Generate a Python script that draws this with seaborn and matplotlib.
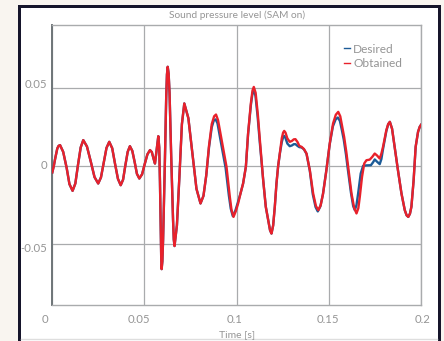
import numpy as np
import pandas as pd
import matplotlib
matplotlib.use("Agg")
import matplotlib.pyplot as plt
import matplotlib.transforms as mtransforms
from matplotlib.patches import Rectangle
from matplotlib.lines import Line2D
import seaborn as sns

# ---------------- data ----------------
title = "Sound pressure level (SAM on)"
xlabel = "Time [s]"
series_names = ["Desired", "Obtained"]
x_ticks = [0, 0.05, 0.1, 0.15, 0.2]
x_ticklabels = ["0", "0.05", "0.1", "0.15", "0.2"]
y_ticks = [-0.05, 0, 0.05]
y_ticklabels = ["-0.05", "0", "0.05"]

# part shared by both series
t_common = [0.0000, 0.0008, 0.0015, 0.0027, 0.0034, 0.0042, 0.0059, 0.0078, 0.0093, 0.0110,
            0.0125, 0.0139, 0.0154, 0.0168, 0.0188, 0.0209, 0.0229, 0.0249, 0.0264, 0.0279,
            0.0294, 0.0309, 0.0325, 0.0340, 0.0356, 0.0371, 0.0384, 0.0396, 0.0409, 0.0421,
            0.0434, 0.0447, 0.0459, 0.0472, 0.0487, 0.0501, 0.0516, 0.0530, 0.0540, 0.0550,
            0.0557, 0.0566, 0.0575, 0.0580, 0.0584, 0.0588, 0.0591, 0.0593, 0.0597, 0.0601,
            0.0610, 0.0618, 0.0622, 0.0626, 0.0631, 0.0636, 0.0645, 0.0655, 0.0659, 0.0663,
            0.0676, 0.0690, 0.0703, 0.0716, 0.0738, 0.0760, 0.0782, 0.0804, 0.0820, 0.0835]
v_common = [-0.0040, 0.0000, 0.0045, 0.0113, 0.0130, 0.0135, 0.0092, -0.0012, -0.0115, -0.0158,
            -0.0111, 0.0005, 0.0120, 0.0167, 0.0126, 0.0028, -0.0070, -0.0111, -0.0072, 0.0023,
            0.0117, 0.0156, 0.0115, 0.0017, -0.0081, -0.0122, -0.0086, 0.0003, 0.0092, 0.0128,
            0.0098, 0.0025, -0.0049, -0.0079, -0.0052, 0.0012, 0.0076, 0.0103, 0.0090, 0.0045,
            0.0017, 0.0105, 0.0192, 0.0120, -0.0100, -0.0400, -0.0600, -0.0660, -0.0610, -0.0471,
            -0.0011, 0.0448, 0.0588, 0.0637, 0.0593, 0.0469, 0.0062, -0.0345, -0.0470, -0.0512,
            -0.0379, -0.0055, 0.0269, 0.0402, 0.0308, 0.0082, -0.0145, -0.0239, -0.0190, -0.0060]

# "Obtained" after t = 0.0835
t_obt_late = [0.0850, 0.0865, 0.0878, 0.0888, 0.0899, 0.0909, 0.0927, 0.0945, 0.0963, 0.0972,
              0.0983, 0.0995, 0.1008, 0.1022, 0.1035, 0.1050, 0.1062, 0.1077, 0.1086, 0.1093,
              0.1103, 0.1115, 0.1126, 0.1144, 0.1158, 0.1171, 0.1181, 0.1189, 0.1198, 0.1207,
              0.1216, 0.1225, 0.1234, 0.1245, 0.1252, 0.1258, 0.1265, 0.1275, 0.1288, 0.1300,
              0.1310, 0.1319, 0.1330, 0.1340, 0.1352, 0.1365, 0.1379, 0.1397, 0.1415, 0.1430,
              0.1443, 0.1456, 0.1469, 0.1487, 0.1505, 0.1523, 0.1538, 0.1551, 0.1562, 0.1573,
              0.1583, 0.1595, 0.1605, 0.1623, 0.1637, 0.1650, 0.1660, 0.1668, 0.1680, 0.1692,
              0.1704, 0.1722, 0.1736, 0.1749, 0.1762, 0.1776, 0.1785, 0.1794, 0.1812, 0.1822,
              0.1831, 0.1843, 0.1857, 0.1875, 0.1894, 0.1912, 0.1922, 0.1931, 0.1940, 0.1948,
              0.1960, 0.1971, 0.1984, 0.1993, 0.2000]
v_obt_late = [0.0130, 0.0270, 0.0320, 0.0331, 0.0295, 0.0231, 0.0113, -0.0004, -0.0197, -0.0280,
              -0.0325, -0.0290, -0.0239, -0.0170, -0.0111, -0.0004, 0.0210, 0.0402, 0.0485, 0.0508,
              0.0470, 0.0330, 0.0167, -0.0090, -0.0260, -0.0346, -0.0410, -0.0432, -0.0380, -0.0260,
              -0.0111, 0.0000, 0.0081, 0.0180, 0.0215, 0.0226, 0.0215, 0.0178, 0.0156, 0.0162,
              0.0172, 0.0173, 0.0155, 0.0130, 0.0124, 0.0110, 0.0081, -0.0026, -0.0175, -0.0255,
              -0.0282, -0.0250, -0.0175, -0.0026, 0.0145, 0.0274, 0.0330, 0.0348, 0.0320, 0.0250,
              0.0188, 0.0090, -0.0004, -0.0175, -0.0265, -0.0303, -0.0270, -0.0197, -0.0069, 0.0017,
              0.0038, 0.0042, 0.0060, 0.0081, 0.0068, 0.0049, 0.0080, 0.0124, 0.0231, 0.0270,
              0.0284, 0.0240, 0.0124, -0.0026, -0.0175, -0.0282, -0.0315, -0.0325, -0.0305, -0.0260,
              -0.0090, 0.0124, 0.0220, 0.0252, 0.0265]

# "Desired" after t = 0.0835
t_des_late = [0.0850, 0.0865, 0.0876, 0.0886, 0.0896, 0.0905, 0.0922, 0.0940, 0.0958, 0.0968,
              0.0979, 0.0993, 0.1006, 0.1022, 0.1035, 0.1050, 0.1062, 0.1077, 0.1086, 0.1092,
              0.1102, 0.1114, 0.1125, 0.1144, 0.1158, 0.1171, 0.1181, 0.1189, 0.1198, 0.1207,
              0.1216, 0.1225, 0.1234, 0.1245, 0.1252, 0.1258, 0.1265, 0.1275, 0.1288, 0.1300,
              0.1310, 0.1319, 0.1330, 0.1340, 0.1352, 0.1365, 0.1379, 0.1397, 0.1413, 0.1428,
              0.1440, 0.1454, 0.1468, 0.1486, 0.1504, 0.1522, 0.1537, 0.1549, 0.1560, 0.1571,
              0.1581, 0.1593, 0.1602, 0.1620, 0.1632, 0.1641, 0.1650, 0.1659, 0.1673, 0.1686,
              0.1704, 0.1728, 0.1740, 0.1749, 0.1762, 0.1776, 0.1785, 0.1794, 0.1812, 0.1822,
              0.1831, 0.1843, 0.1857, 0.1875, 0.1894, 0.1912, 0.1922, 0.1931, 0.1940, 0.1948,
              0.1960, 0.1971, 0.1984, 0.1993, 0.2000]
v_des_late = [0.0120, 0.0250, 0.0293, 0.0300, 0.0275, 0.0215, 0.0105, -0.0010, -0.0190, -0.0272,
              -0.0320, -0.0285, -0.0235, -0.0170, -0.0111, -0.0004, 0.0205, 0.0390, 0.0468, 0.0487,
              0.0452, 0.0315, 0.0160, -0.0090, -0.0260, -0.0346, -0.0410, -0.0432, -0.0380, -0.0260,
              -0.0111, 0.0000, 0.0078, 0.0155, 0.0185, 0.0194, 0.0180, 0.0145, 0.0128, 0.0133,
              0.0141, 0.0141, 0.0130, 0.0122, 0.0120, 0.0108, 0.0079, -0.0030, -0.0180, -0.0262,
              -0.0290, -0.0258, -0.0180, -0.0030, 0.0135, 0.0255, 0.0300, 0.0312, 0.0290, 0.0230,
              0.0170, 0.0075, -0.0010, -0.0170, -0.0255, -0.0282, -0.0250, -0.0175, -0.0047, 0.0002,
              0.0005, 0.0006, 0.0025, 0.0043, 0.0028, 0.0013, 0.0045, 0.0110, 0.0225, 0.0268,
              0.0284, 0.0240, 0.0124, -0.0026, -0.0175, -0.0282, -0.0315, -0.0325, -0.0305, -0.0260,
              -0.0090, 0.0124, 0.0220, 0.0252, 0.0265]

t_des = t_common + t_des_late
v_des = v_common + v_des_late
t_obt = t_common + t_obt_late
v_obt = v_common + v_obt_late

df = pd.DataFrame({
    "t": t_des + t_obt,
    "v": v_des + v_obt,
    "series": [series_names[0]] * len(t_des) + [series_names[1]] * len(t_obt),
})

# ---------------- figure ----------------
W, H = 444, 341
fig = plt.figure(figsize=(W / 100, H / 100), dpi=100, facecolor="#f9f5f0")

# card with dark frame (drawn behind the axes)
lw_px = 3.0
card = Rectangle((18.5 / W, -0.05), (439.0 - 18.5) / W, 1 - 5.5 / H + 0.05,
                 transform=fig.transFigure, facecolor="white", edgecolor="#16152b",
                 linewidth=lw_px * 72 / 100, zorder=-10)
fig.patches.append(card)
fig.lines.append(Line2D([20.5 / W, 437.0 / W], [1 - 339.3 / H] * 2, transform=fig.transFigure,
                        color="#dedede", linewidth=1.0, zorder=-9))

ax_left, ax_right, ax_top, ax_bottom = 52.3, 421.0, 25.0, 305.0
ax = fig.add_axes([ax_left / W, 1 - ax_bottom / H, (ax_right - ax_left) / W, (ax_bottom - ax_top) / H])
ax.set_zorder(1)
ax.set_facecolor("white")

palette = {series_names[0]: "#1c5b97", series_names[1]: "#e8212b"}
sns.lineplot(data=df, x="t", y="v", hue="series", hue_order=series_names, palette=palette,
             estimator=None, sort=False, linewidth=1.7, ax=ax, zorder=3)

ax.set_xlim(0, 0.2)
ax.set_ylim(-0.089, 0.0905)
ax.set_xticks(x_ticks)
ax.set_xticklabels(x_ticklabels)
ax.set_yticks(y_ticks)
ax.set_yticklabels(y_ticklabels)

font = "Lato"
txt_col = "#959595"
ax.grid(True, color="#a9abad", linewidth=0.9, zorder=1)
ax.set_axisbelow(True)
for s in ["top", "right", "bottom"]:
    ax.spines[s].set_color("#a9abad")
    ax.spines[s].set_linewidth(1.0)
ax.spines["left"].set_color("#6e7578")
ax.spines["left"].set_linewidth(1.4)
ax.tick_params(axis="both", length=0, labelsize=8.2, labelcolor=txt_col)
ax.tick_params(axis="x", pad=6.5)
ax.tick_params(axis="y", pad=3.5)

# small per-label offsets (pixels) as in the reference layout
x_off_px = [-7, -6, -2.5, -1, 2]
y_off_px = [-3, 1.5, 5]
for lab, dx in zip(ax.get_xticklabels(), x_off_px):
    lab.set_fontfamily(font)
    lab.set_transform(lab.get_transform() + mtransforms.ScaledTranslation(dx / 100, 0, fig.dpi_scale_trans))
for lab, dy in zip(ax.get_yticklabels(), y_off_px):
    lab.set_fontfamily(font)
    lab.set_transform(lab.get_transform() + mtransforms.ScaledTranslation(0, dy / 100, fig.dpi_scale_trans))

ax.set_xlabel(xlabel, fontsize=7.5, color=txt_col, fontfamily=font, labelpad=4)
ax.set_ylabel("")
ax.set_title(title, fontsize=7.3, color=txt_col, fontfamily=font, pad=5)

leg = ax.legend(loc="upper right", bbox_to_anchor=(0.978, 0.972), frameon=False,
                handlelength=0.5, handletextpad=0.25, labelspacing=0.3,
                prop={"family": font, "size": 8.6})
for txt in leg.get_texts():
    txt.set_color(txt_col)
for h in leg.get_lines():
    h.set_linewidth(1.0)

fig.savefig("out.png", dpi=100, facecolor=fig.get_facecolor())
